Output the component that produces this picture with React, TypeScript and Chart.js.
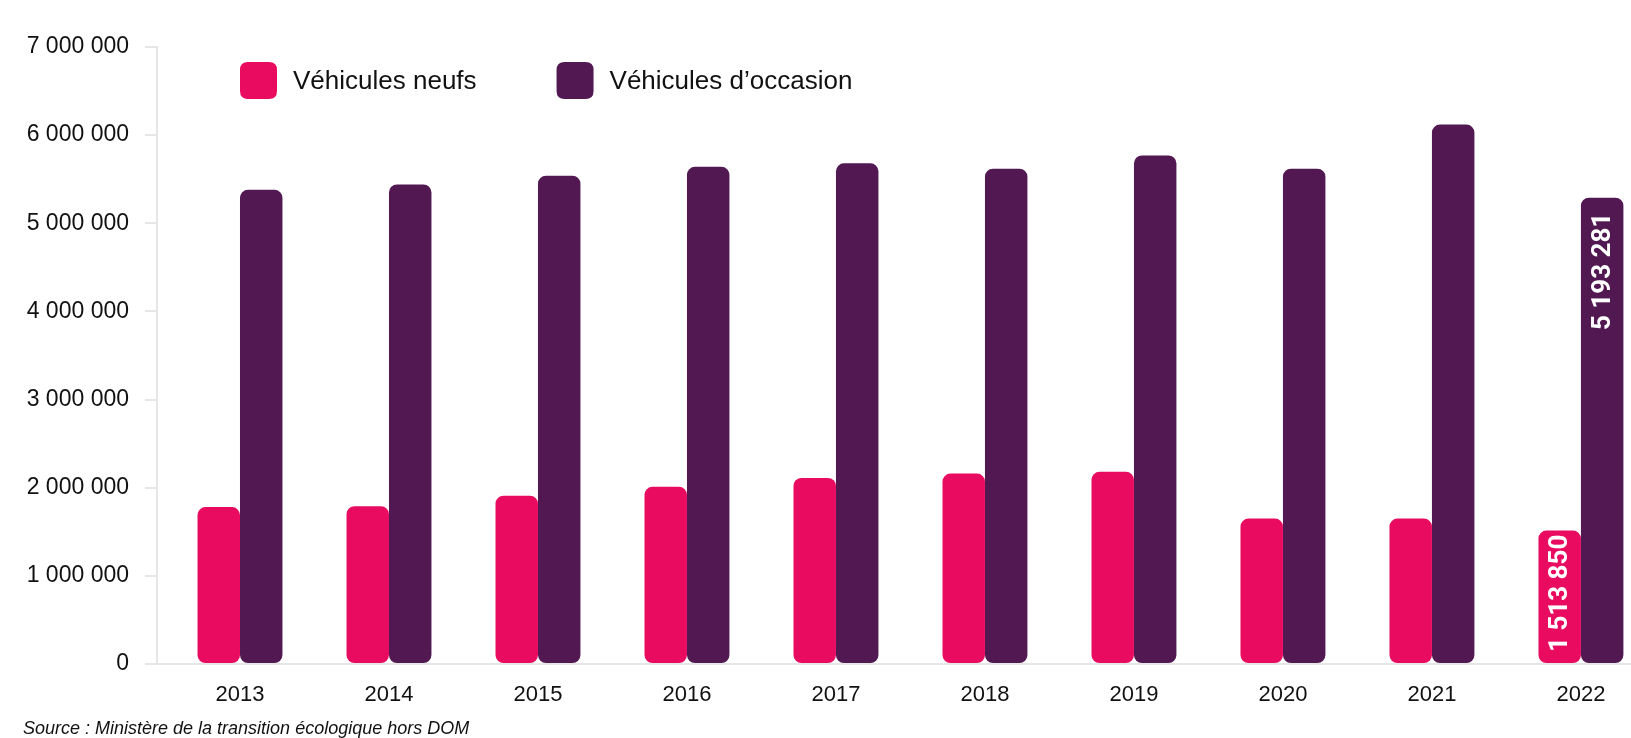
import React, { useEffect, useRef } from 'react';
import { Chart, registerables } from 'chart.js';

Chart.register(...registerables);

const categories = ['2013', '2014', '2015', '2016', '2017', '2018', '2019', '2020', '2021', '2022'];
const seriesNames = ['Véhicules neufs', 'Véhicules d’occasion'];
const neufs = [1780000, 1790000, 1910000, 2010000, 2110000, 2160000, 2180000, 1650000, 1650000, 1513850];
const occasion = [5380000, 5440000, 5540000, 5640000, 5680000, 5620000, 5770000, 5620000, 6120000, 5290000];
const neufsLabels = [null, null, null, null, null, null, null, null, null, '1 513 850'];
const occasionLabels = [null, null, null, null, null, null, null, null, null, '5 193 281'];
const yTicks = [0, 1000000, 2000000, 3000000, 4000000, 5000000, 6000000, 7000000];
const sourceText = 'Source : Ministère de la transition écologique hors DOM';

const PINK = '#E90B5F';
const PURPLE = '#511852';
const AXIS = '#E6E6E6';
const FONT = "Arial, 'Liberation Sans', Helvetica, sans-serif";
const BOLD_FONT = "Roboto, Arial, sans-serif";

const fmt = (v: number) => String(Math.round(v)).replace(/\B(?=(\d{3})+(?!\d))/g, ' ');

function roundRect(ctx: CanvasRenderingContext2D, x: number, y: number, w: number, h: number, r: number) {
  ctx.beginPath();
  ctx.moveTo(x + r, y);
  ctx.lineTo(x + w - r, y);
  ctx.quadraticCurveTo(x + w, y, x + w, y + r);
  ctx.lineTo(x + w, y + h - r);
  ctx.quadraticCurveTo(x + w, y + h, x + w - r, y + h);
  ctx.lineTo(x + r, y + h);
  ctx.quadraticCurveTo(x, y + h, x, y + h - r);
  ctx.lineTo(x, y + r);
  ctx.quadraticCurveTo(x, y, x + r, y);
  ctx.closePath();
}

const legendPlugin = {
  id: 'customLegend',
  afterDraw(chart: any) {
    const ctx: CanvasRenderingContext2D = chart.ctx;
    const area = chart.chartArea;
    let x = area.left + 83;
    const boxTop = 62;
    const box = 37;
    ctx.save();
    ctx.font = `26px ${FONT}`;
    ctx.textBaseline = 'middle';
    ctx.textAlign = 'left';
    chart.data.datasets.forEach((ds: any) => {
      ctx.fillStyle = ds.backgroundColor;
      roundRect(ctx, x, boxTop, box, box, 8);
      ctx.fill();
      x += box + 16;
      ctx.fillStyle = '#111';
      ctx.fillText(ds.label, x, boxTop + box / 2 + 1);
      x += ctx.measureText(ds.label).width + 80;
    });
    ctx.restore();
  },
};

const valueLabelPlugin = {
  id: 'valueLabels',
  afterDatasetsDraw(chart: any) {
    const ctx: CanvasRenderingContext2D = chart.ctx;
    ctx.save();
    ctx.font = `bold 26px ${BOLD_FONT}`;
    ctx.fillStyle = '#FFFFFF';
    ctx.textBaseline = 'middle';
    chart.data.datasets.forEach((ds: any, di: number) => {
      const meta = chart.getDatasetMeta(di);
      const labels: (string | null)[] = ds.valueLabels || [];
      meta.data.forEach((bar: any, i: number) => {
        const text = labels[i];
        if (!text) return;
        ctx.save();
        if (ds.labelAnchor === 'base') {
          ctx.translate(bar.x, bar.base - 11);
          ctx.rotate(-Math.PI / 2);
          ctx.textAlign = 'left';
        } else {
          ctx.translate(bar.x, bar.y + 15);
          ctx.rotate(-Math.PI / 2);
          ctx.textAlign = 'right';
        }
        ctx.fillText(text, 0, 1);
        ctx.restore();
      });
    });
    ctx.restore();
  },
};

const sourcePlugin = {
  id: 'sourceText',
  afterDraw(chart: any) {
    const ctx: CanvasRenderingContext2D = chart.ctx;
    ctx.save();
    ctx.font = `italic 18px ${FONT}`;
    ctx.fillStyle = '#111';
    ctx.textAlign = 'left';
    ctx.textBaseline = 'alphabetic';
    ctx.fillText(sourceText, 23, 734);
    ctx.restore();
  },
};

export default function App() {
  const ref = useRef<HTMLCanvasElement | null>(null);

  useEffect(() => {
    if (!ref.current) return;
    const chart = new Chart(ref.current, {
      type: 'bar',
      data: {
        datasets: [
          {
            label: seriesNames[0],
            data: neufs.map((v, i) => ({ x: i, y: v })),
            backgroundColor: PINK,
            valueLabels: neufsLabels,
            labelAnchor: 'base',
          } as any,
          {
            label: seriesNames[1],
            data: occasion.map((v, i) => ({ x: i, y: v })),
            backgroundColor: PURPLE,
            valueLabels: occasionLabels,
            labelAnchor: 'top',
          } as any,
        ],
      },
      options: {
        animation: false,
        responsive: false,
        layout: { padding: { left: 23, top: 47, right: 0, bottom: 0 } },
        datasets: {
          bar: {
            categoryPercentage: 0.57,
            barPercentage: 1,
            borderRadius: 8,
            borderSkipped: false,
            borderWidth: 0,
          },
        },
        plugins: {
          legend: { display: false },
          tooltip: { enabled: false },
          title: { display: false },
        },
        scales: {
          x: {
            type: 'linear',
            min: -0.557,
            max: 9.336,
            offset: false,
            grid: { display: false, offset: false },
            border: { display: true, color: AXIS, width: 2 },
            afterBuildTicks: (axis: any) => {
              axis.ticks = categories.map((_, i) => ({ value: i }));
            },
            afterFit: (axis: any) => {
              axis.height = 74;
            },
            ticks: {
              autoSkip: false,
              maxRotation: 0,
              padding: 10,
              color: '#111',
              font: { family: FONT, size: 22 },
              callback: (value: any) => categories[value as number] ?? '',
            },
          },
          y: {
            type: 'linear',
            min: 0,
            max: 7000000,
            afterBuildTicks: (axis: any) => {
              axis.ticks = yTicks.map((v) => ({ value: v }));
            },
            afterFit: (axis: any) => {
              axis.width = 134;
            },
            grid: {
              drawOnChartArea: false,
              drawTicks: true,
              tickLength: 12,
              color: AXIS,
              lineWidth: 2,
            },
            border: { display: true, color: AXIS, width: 2 },
            ticks: {
              padding: 16,
              color: '#111',
              font: { family: FONT, size: 23 },
              callback: (value: any) => fmt(Number(value)),
            },
          },
        } as any,
      },
      plugins: [legendPlugin, valueLabelPlugin, sourcePlugin],
    } as any);
    return () => chart.destroy();
  }, []);

  return (
    <div style={{ position: 'absolute', left: 0, top: 0, width: 1631, height: 738, overflow: 'hidden', background: '#fff' }}>
      <canvas ref={ref} width={1631} height={738} style={{ display: 'block' }} />
    </div>
  );
}
